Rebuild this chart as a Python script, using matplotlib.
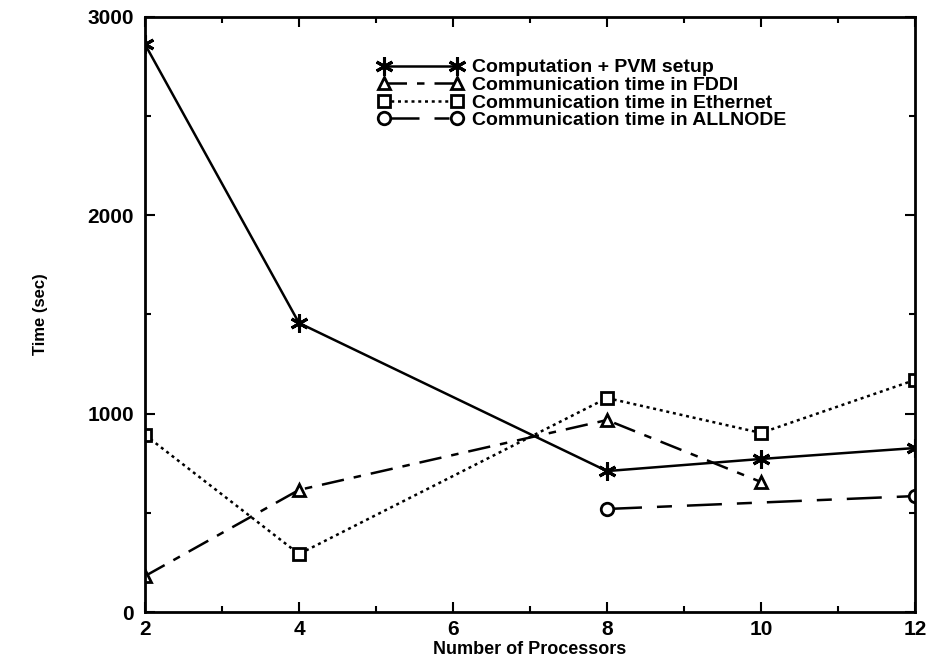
import matplotlib
matplotlib.use("Agg")
import matplotlib.pyplot as plt
from matplotlib.ticker import MultipleLocator

plt.rcParams['font.family'] = ['Liberation Sans', 'DejaVu Sans']
plt.rcParams['font.weight'] = 'bold'

x_comp = [2, 4, 8, 10, 12]
y_comp = [2860, 1456, 710, 771, 826]
x_fddi = [2, 4, 8, 10]
y_fddi = [181, 615, 967, 655]
x_eth = [2, 4, 8, 10, 12]
y_eth = [892, 292, 1078, 902, 1169]
x_all = [8, 12]
y_all = [519, 584]

labels = ["Computation + PVM setup", "Communication time in FDDI",
          "Communication time in Ethernet", "Communication time in ALLNODE"]

fig = plt.figure(figsize=(9.35, 6.62), dpi=100)
ax = fig.add_axes([145/935, 50/662, 770/935, 595.5/662])

ax.plot(x_comp, y_comp, color='black', lw=1.8, marker=(6, 2, 0), ms=13, mew=2.2,
        label=labels[0])
l2, = ax.plot(x_fddi, y_fddi, color='black', lw=1.8, marker='^', ms=9, mew=2,
        mfc='white', label=labels[1])
l2.set_dashes((9, 4, 3, 4))
ax.plot(x_eth, y_eth, color='black', lw=1.8, marker='s', ms=8, mew=2,
        mfc='white', ls=(0, (1.2, 1.5)), label=labels[2])
l4, = ax.plot(x_all, y_all, color='black', lw=1.8, marker='o', ms=9, mew=2,
        mfc='white', label=labels[3])
l4.set_dashes((14, 6, 6, 6))

ax.set_xlim(2, 12)
ax.set_ylim(0, 3000)
ax.xaxis.set_major_locator(MultipleLocator(2))
ax.xaxis.set_minor_locator(MultipleLocator(1))
ax.yaxis.set_major_locator(MultipleLocator(1000))
ax.yaxis.set_minor_locator(MultipleLocator(500))
ax.tick_params(which='both', direction='in', top=True, right=True, width=1.5)
ax.tick_params(which='major', length=7, labelsize=15, pad=6)
ax.tick_params(which='minor', length=4)
ax.tick_params(axis='y', which='major', pad=8)
for s in ax.spines.values():
    s.set_linewidth(2)

ax.set_xlabel("Number of Processors", fontsize=13, fontweight='bold', labelpad=1.5)
ax.set_ylabel("Time (sec)", fontsize=12, fontweight='bold', labelpad=28)

ax.legend(loc='upper left', bbox_to_anchor=((370-145)/770, (662-50-51)/595.5),
          frameon=False, handlelength=4.4, handletextpad=0.45, labelspacing=0.0,
          numpoints=2, prop={'size': 14, 'weight': 'bold'}, borderaxespad=0)

fig.savefig("out.png", dpi=100)
